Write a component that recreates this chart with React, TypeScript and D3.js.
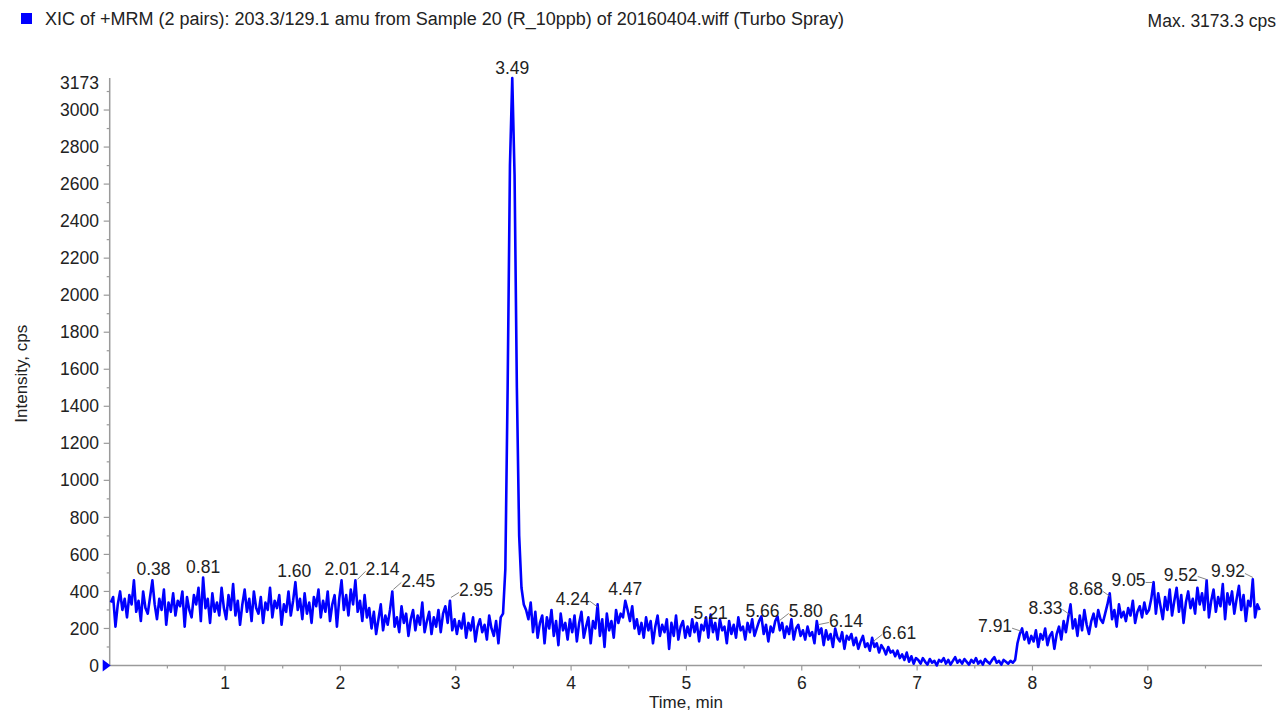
import * as d3 from "d3";

const W = 1281;
const H = 711;

// XIC trace, scans every 0.02 min starting at 0.01 min
const traceStart = 0.01;
const traceStep = 0.02;
const intensity = [
  // 0.01 - 0.99
  340, 370, 210, 330, 400, 300, 360, 260, 380, 330,
  460, 290, 350, 240, 400, 310, 280, 370, 460, 330,
  250, 360, 300, 410, 220, 340, 290, 390, 270, 350,
  320, 400, 210, 370, 300, 260, 380, 330, 420, 240,
  475, 310, 360, 230, 390, 290, 340, 270, 420, 310,
  // 1.01 - 1.99
  250, 380, 300, 440, 270, 350, 220, 330, 410, 290,
  360, 240, 400, 310, 280, 370, 230, 340, 300, 420,
  260, 350, 310, 380, 220, 330, 290, 400, 270, 350,
  450, 300, 360, 250, 390, 280, 340, 230, 370, 320,
  410, 260, 350, 290, 400, 240, 330, 380, 210, 360,
  // 2.01 - 2.99
  460, 300, 380, 270, 410, 330, 460, 290, 350, 240,
  380, 260, 310, 200, 290, 170, 250, 330, 190, 270,
  220, 300, 400, 210, 260, 180, 320, 230, 280, 160,
  250, 300, 190, 270, 220, 340, 180, 240, 290, 170,
  260, 210, 300, 180, 280, 320, 230, 350, 190, 250,
  // 3.01 - 3.99
  170, 240, 200, 280, 150, 230, 190, 260, 130, 210,
  250, 180, 220, 140, 270, 200, 160, 240, 120, 260,
  280, 520, 1500, 2700, 3173, 2650, 1500, 700, 420, 330,
  300, 250, 340, 180, 290, 150, 230, 270, 120, 260,
  200, 300, 160, 240, 110, 280, 190, 230, 140, 250,
  // 4.01 - 4.99
  180, 270, 130, 230, 290, 150, 210, 260, 120, 240,
  200, 330, 160, 250, 100, 280, 190, 240, 150, 300,
  230, 280, 260, 350, 300, 240, 320, 200, 250, 170,
  230, 150, 260, 190, 240, 120, 210, 270, 160, 220,
  180, 250, 90, 230, 160, 270, 140, 210, 240, 150,
  // 5.01 - 5.99
  210, 160, 250, 180, 230, 130, 220, 190, 260, 150,
  275, 180, 230, 140, 250, 190, 210, 120, 240, 170,
  220, 150, 260, 190, 210, 140, 230, 180, 250, 160,
  200, 240, 265, 170, 220, 130, 210, 180, 240, 265,
  190, 230, 150, 210, 170, 250, 140, 200, 220, 160,
  // 6.01 - 6.99
  190, 140, 210, 160, 180, 120, 240, 170, 200, 110,
  190, 140, 170, 100, 200, 150, 130, 180, 90, 160,
  140, 170, 110, 150, 90, 130, 160, 100, 120, 80,
  150, 100, 120, 70, 110, 90, 60, 100, 70, 80,
  50, 80, 40, 60, 30, 70, 20, 50, 10, 40,
  // 7.01 - 7.99
  30, 10, 40, 20, 5, 35, 15, 25, 0, 30,
  20, 40, 10, 30, 5, 25, 45, 15, 30, 10,
  35, 20, 5, 30, 15, 40, 10, 25, 5, 35,
  20, 10, 30, 45, 15, 25, 5, 30, 20, 10,
  25, 15, 30, 120, 170, 200, 140, 180, 120, 160,
  // 8.01 - 8.99
  130, 190, 100, 170, 140, 200, 110, 160, 180, 90,
  170, 210, 140, 240, 180, 260, 330, 200, 250, 160,
  270, 190, 300, 220, 170, 240, 280, 210, 300, 250,
  230, 280, 330, 390, 250, 300, 210, 330, 260, 290,
  240, 310, 270, 350, 230, 290, 320, 260, 340, 280,
  // 9.01 - 9.97
  300, 360, 450, 280, 390, 320, 250, 370, 300, 410,
  270, 350, 420, 290, 380, 230, 340, 400, 310, 360,
  280, 420, 330, 390, 300, 460, 260, 350, 410, 290,
  370, 320, 440, 250, 390, 330, 400, 280, 360, 430,
  300, 380, 240, 350, 320, 465, 260, 330, 300,
];

// apex labels
const peakLabels = [
  "0.38", "0.81", "1.60", "2.01", "2.14", "2.45", "2.95", "3.49", "4.24", "4.47", "5.21",
  "5.66", "5.80", "6.14", "6.61", "7.91", "8.33", "8.68", "9.05", "9.52", "9.92",
];
const peakHeights = [
  460, 475, 450, 460, 460, 405, 362, 3173, 310, 357, 285,
  255, 238, 216, 124, 180, 270, 368, 443, 459, 470,
];

// label offset from its apex, px
const labelDx = [0, 0, 0, 0, 26, 26, 26, 0, -26, 0, 0, 0, 27, 28, 27, -27, -25, -25, -25, -27, -26];
const labelDy = [-5, -5, -5, -5, -5, -4, -2, -4, -3, -4, 6, -1, -4, 1, -4, 0, -2, -2, 3, 0, -1];

const yTickValues = [0, 200, 400, 600, 800, 1000, 1200, 1400, 1600, 1800, 2000, 2200, 2400, 2600, 2800, 3000, 3173];
const xTickValues = [1, 2, 3, 4, 5, 6, 7, 8, 9];

const titleText = "XIC of +MRM (2 pairs): 203.3/129.1 amu from Sample 20 (R_10ppb) of 20160404.wiff (Turbo Spray)";
const maxText = "Max. 3173.3 cps";

const FONT = "'Liberation Sans', Arial, Helvetica, sans-serif";
const BLUE = "#0000ff";
const AXIS = "#9a9a9a";
const TEXT = "#222";

export default function App() {
  const x = d3.scaleLinear().domain([0, 9.99]).range([109.7, 1262]);
  const y = d3.scaleLinear().domain([0, 3173]).range([665.5, 78]);

  const points: [number, number][] = intensity.map((v, i) => [traceStart + i * traceStep, v]);
  const line = d3
    .line<[number, number]>()
    .x((d) => x(d[0]))
    .y((d) => y(d[1]));

  const yMinor = d3.range(100, 3173, 200);
  const xMinor = d3.range(0.5, 10, 1);
  const x0 = x(0);
  const y0 = y(0);

  return (
    <svg
      width={W}
      height={H}
      style={{ position: "fixed", left: 0, top: 0, background: "#fff" }}
      fontFamily={FONT}
    >
      {/* header */}
      <rect x={21} y={13} width={11} height={11} fill={BLUE} />
      <text x={45} y={25} fontSize={18} fill={TEXT}>
        {titleText}
      </text>
      <text x={1276} y={27} fontSize={17.5} fill={TEXT} textAnchor="end">
        {maxText}
      </text>

      {/* y axis */}
      <line x1={x0} x2={x0} y1={y(3173)} y2={y0} stroke={AXIS} strokeWidth={1.5} />
      {yTickValues.map((t) => (
        <g key={"yt" + t}>
          {t !== 3173 && <line x1={x0 - 6} x2={x0} y1={y(t)} y2={y(t)} stroke={AXIS} strokeWidth={1.2} />}
          <text
            x={99}
            y={t === 3173 ? y(t) + 5 : y(t)}
            dy="0.35em"
            fontSize={17.5}
            fill={TEXT}
            textAnchor="end"
          >
            {t}
          </text>
        </g>
      ))}
      {yMinor.map((t) => (
        <line key={"ym" + t} x1={x0 - 3} x2={x0} y1={y(t)} y2={y(t)} stroke={AXIS} strokeWidth={1.2} />
      ))}
      <text
        transform={`translate(27, ${(y(3173) + y0) / 2 + 2}) rotate(-90)`}
        fontSize={17}
        fill={TEXT}
        textAnchor="middle"
      >
        Intensity, cps
      </text>

      {/* x axis */}
      <line x1={x0} x2={x(9.99)} y1={y0} y2={y0} stroke={AXIS} strokeWidth={1.5} />
      {xTickValues.map((t) => (
        <g key={"xt" + t}>
          <line x1={x(t)} x2={x(t)} y1={y0} y2={y0 + 5} stroke={AXIS} strokeWidth={1.2} />
          <text x={x(t)} y={689} fontSize={17.5} fill={TEXT} textAnchor="middle">
            {t}
          </text>
        </g>
      ))}
      {xMinor.map((t) => (
        <line key={"xm" + t} x1={x(t)} x2={x(t)} y1={y0} y2={y0 + 3} stroke={AXIS} strokeWidth={1.2} />
      ))}
      <text x={686} y={708} fontSize={17} fill={TEXT} textAnchor="middle">
        Time, min
      </text>

      {/* trace */}
      <path d={line(points) ?? ""} fill="none" stroke={BLUE} strokeWidth={2.6} strokeLinejoin="round" />

      {/* origin marker */}
      <path d={`M${x0 - 7},${y0 - 6}L${x0 + 1},${y0}L${x0 - 7},${y0 + 6}Z`} fill={BLUE} />

      {/* apex labels */}
      {peakLabels.map((lab, i) => {
        const px = x(+lab);
        const py = y(peakHeights[i]);
        const dx = labelDx[i];
        const tx = px + dx;
        const ty = py + labelDy[i];
        const s = Math.sign(dx);
        return (
          <g key={"pk" + i}>
            {dx !== 0 && (
              <line
                x1={px + s}
                y1={py - 1}
                x2={tx - s * 17}
                y2={ty - 4}
                stroke="#777"
                strokeWidth={0.9}
              />
            )}
            <text x={tx} y={ty} fontSize={17.5} fill={TEXT} textAnchor="middle">
              {lab}
            </text>
          </g>
        );
      })}
    </svg>
  );
}
